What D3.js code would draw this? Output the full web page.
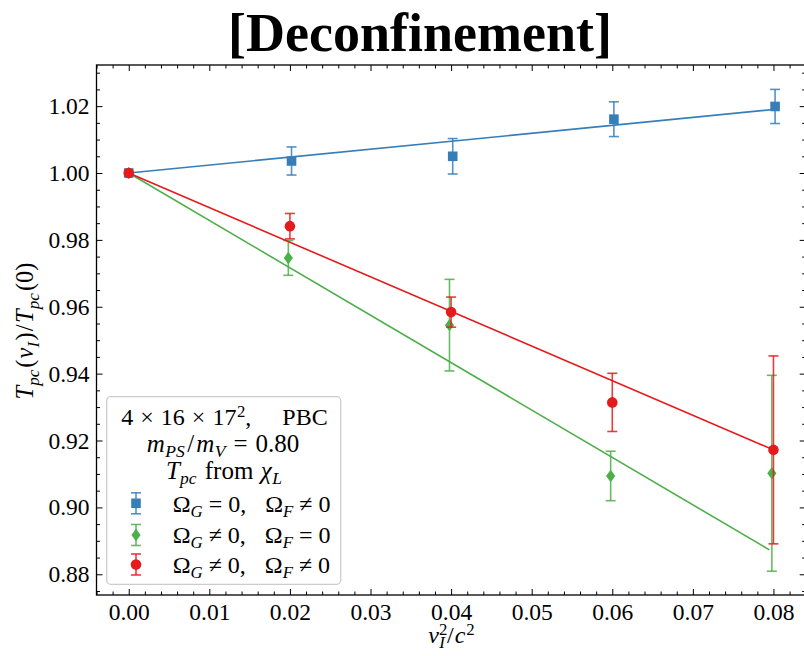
<!DOCTYPE html>
<html>
<head>
<meta charset="utf-8">
<script src="https://cdn.jsdelivr.net/npm/d3@7"></script>
<style>
  body { margin: 0; background: #fff; }
  svg { display: block; }
  text { font-family: "Liberation Serif", "DejaVu Serif", serif; fill: #000; }
</style>
</head>
<body>
<svg id="chart" width="804" height="656"></svg>
<script>
// v_I^2 / c^2 values for each lattice run
const xBlue  = [0, 0.0202, 0.0402, 0.0602, 0.0802];
const xGreen = [0, 0.0198, 0.0398, 0.0598, 0.0798];
const xRed   = [0, 0.0200, 0.0400, 0.0600, 0.0800];

// T_pc(v_I) / T_pc(0) with statistical errors
const blueY   = [1.0000, 1.0036, 1.0050, 1.0161, 1.0199];
const blueErr = [0, 0.0042, 0.0053, 0.0052, 0.0051];
const greenY   = [1.0000, 0.9746, 0.9545, 0.9094, 0.9102];
const greenErr = [0, 0.0052, 0.0137, 0.0074, 0.0293];
const redY   = [1.0000, 0.9841, 0.9584, 0.9314, 0.9172];
const redErr = [0, 0.0038, 0.0045, 0.0087, 0.0281];

// linear fits through (0, 1): [x, y] end points
const blueFit  = [[0, 1.0], [0.0800, 1.0190]];
const greenFit = [[0, 1.0], [0.0795, 0.8873]];
const redFit   = [[0, 1.0], [0.0800, 0.9172]];

// ticks
const xMajor = [0, 0.01, 0.02, 0.03, 0.04, 0.05, 0.06, 0.07, 0.08];
const yMajor = [0.88, 0.90, 0.92, 0.94, 0.96, 0.98, 1.00, 1.02];

const svg = d3.select("#chart");
const pL = 96.5, pR = 805.7, pT = 65, pB = 595;

const x = d3.scaleLinear().domain([-0.004, 0.084]).range([pL, pR]);
const y = d3.scaleLinear().domain([0.8738, 1.0323]).range([pB, pT]);

const xMinor = d3.range(-0.004, 0.0841, 0.002).map(v => +v.toFixed(4)).filter(v => xMajor.every(m => Math.abs(m - v) > 1e-6));
const yMinor = d3.range(0.875, 1.0326, 0.005).map(v => +v.toFixed(4)).filter(v => yMajor.every(m => Math.abs(m - v) > 1e-6));

// rich text with italic / sub / superscript pieces
function richText(t, parts, size, subShift = 0.26) {
  let shift = 0;
  parts.forEach(p => {
    const target = p.sub ? size * subShift : p.sup ? -size * 0.34 : 0;
    const ts = t.append("tspan").text(p.t)
      .attr("dy", (target - shift).toFixed(2))
      .attr("font-size", (p.sub || p.sup) ? size * 0.7 : size)
      .attr("font-style", p.i ? "italic" : "normal");
    if (p.dx) ts.attr("dx", p.dx);
    shift = target;
  });
  return t;
}

// title
svg.append("text")
  .attr("x", 420).attr("y", 51)
  .attr("text-anchor", "middle")
  .attr("font-size", 54).attr("font-weight", "bold")
  .text("[Deconfinement]");

// axes: ticks point inward on all four sides
function addAxis(axisFn, pos, transform, ticks, size, labels) {
  const a = axisFn(pos).tickValues(ticks).tickSizeInner(-size).tickSizeOuter(0);
  if (labels) a.tickFormat(d3.format(".2f")).tickPadding(axisFn === d3.axisBottom ? 8.5 : 7);
  else a.tickFormat("");
  const g = svg.append("g").attr("transform", transform).call(a);
  g.select(".domain").remove();
  g.selectAll(".tick line").attr("stroke", "#000").attr("stroke-width", 1);
  g.selectAll(".tick text").attr("font-size", 23.5).attr("font-family", "Liberation Serif, serif");
  return g;
}
addAxis(d3.axisBottom, x, `translate(0,${pB})`, xMajor, 6, true);
addAxis(d3.axisBottom, x, `translate(0,${pB})`, xMinor, 3.5, false);
addAxis(d3.axisTop, x, `translate(0,${pT})`, xMajor, 6, false);
addAxis(d3.axisTop, x, `translate(0,${pT})`, xMinor, 3.5, false);
addAxis(d3.axisLeft, y, `translate(${pL},0)`, yMajor, 6, true);
addAxis(d3.axisLeft, y, `translate(${pL},0)`, yMinor, 3.5, false);
addAxis(d3.axisRight, y, `translate(${pR},0)`, yMajor, 6, false);
addAxis(d3.axisRight, y, `translate(${pR},0)`, yMinor, 3.5, false);

svg.append("rect")
  .attr("x", pL).attr("y", pT)
  .attr("width", pR - pL).attr("height", pB - pT)
  .attr("fill", "none").attr("stroke", "#000").attr("stroke-width", 1.3);

// axis titles
richText(svg.append("text").attr("x", 451.5).attr("y", 643).attr("text-anchor", "middle"), [
  { t: "v", i: true },
  { t: "2", sup: true },
  { t: "I", sub: true, i: true, dx: -8 },
  { t: "/", dx: 2 },
  { t: "c", i: true, dx: 1 },
  { t: "2", sup: true, dx: 1 }
], 24, 0.22);

richText(svg.append("text")
  .attr("transform", "translate(33,331) rotate(-90)")
  .attr("text-anchor", "middle"), [
  { t: "T", i: true }, { t: "pc", sub: true, i: true },
  { t: "(", dx: 2 }, { t: "v", i: true, dx: 1 }, { t: "I", sub: true, i: true },
  { t: ")", dx: 1.5 }, { t: "/", dx: 1 },
  { t: "T", i: true, dx: 1.5 }, { t: "pc", sub: true, i: true },
  { t: "(0)", dx: 2 }
], 24.5);

// series
const series = [
  { xs: xBlue,  ys: blueY,  es: blueErr,  fit: blueFit,  color: "#377eb8", shape: "square" },
  { xs: xGreen, ys: greenY, es: greenErr, fit: greenFit, color: "#4daf4a", shape: "diamond" },
  { xs: xRed,   ys: redY,   es: redErr,   fit: redFit,   color: "#e41a1c", shape: "circle" }
];

function drawMarker(g, shape, cx, cy, color) {
  if (shape === "square") {
    g.append("rect").attr("x", cx - 4.8).attr("y", cy - 4.8)
      .attr("width", 9.6).attr("height", 9.6).attr("fill", color);
  } else if (shape === "diamond") {
    g.append("path")
      .attr("d", `M${cx},${cy - 6.2}L${cx + 4.6},${cy}L${cx},${cy + 6.2}L${cx - 4.6},${cy}Z`)
      .attr("fill", color);
  } else {
    g.append("circle").attr("cx", cx).attr("cy", cy).attr("r", 5.3).attr("fill", color);
  }
}

function drawErr(g, cx, y0, y1, color) {
  g.append("line").attr("x1", cx).attr("x2", cx).attr("y1", y0).attr("y2", y1)
    .attr("stroke", color).attr("stroke-width", 1.6).attr("stroke-opacity", 0.85);
  [y0, y1].forEach(yy => g.append("line")
    .attr("x1", cx - 5).attr("x2", cx + 5).attr("y1", yy).attr("y2", yy)
    .attr("stroke", color).attr("stroke-width", 1.6).attr("stroke-opacity", 0.85));
}

const line = d3.line().x(d => x(d[0])).y(d => y(d[1]));

series.forEach(s => {
  const g = svg.append("g");
  g.append("path").datum(s.fit).attr("d", line)
    .attr("fill", "none").attr("stroke", s.color).attr("stroke-width", 1.6);
  s.xs.forEach((xv, i) => {
    if (s.es[i] > 0) drawErr(g, x(xv), y(s.ys[i] - s.es[i]), y(s.ys[i] + s.es[i]), s.color);
  });
  s.xs.forEach((xv, i) => drawMarker(g, s.shape, x(xv), y(s.ys[i]), s.color));
});

// legend
const lg = svg.append("g");
lg.append("rect")
  .attr("x", 106.7).attr("y", 396.7).attr("width", 234).attr("height", 187.6)
  .attr("rx", 4).attr("fill", "#fff").attr("fill-opacity", 0.8)
  .attr("stroke", "#cccccc").attr("stroke-width", 1.3);

const lfs = 24;
richText(lg.append("text").attr("x", 224.5).attr("y", 425).attr("text-anchor", "middle"), [
  { t: "4" }, { t: "×", dx: 7 }, { t: "16", dx: 7 }, { t: "×", dx: 7 }, { t: "17", dx: 7 },
  { t: "2", sup: true, dx: 0.5 }, { t: "," }, { t: "PBC", dx: 31 }
], lfs);
richText(lg.append("text").attr("x", 223).attr("y", 452).attr("text-anchor", "middle"), [
  { t: "m", i: true }, { t: "PS", sub: true, i: true, dx: 0.5 },
  { t: "/", dx: 2.5 },
  { t: "m", i: true, dx: 2 }, { t: "V", sub: true, i: true, dx: 0.5 },
  { t: "=", dx: 8 }, { t: "0.80", dx: 8 }
], lfs + 1, 0.2);
richText(lg.append("text").attr("x", 224).attr("y", 478.5).attr("text-anchor", "middle"), [
  { t: "T", i: true }, { t: "pc", sub: true, i: true },
  { t: " from ", dx: 2 },
  { t: "χ", i: true, dx: 1 }, { t: "L", sub: true, i: true, dx: 0.5 }
], lfs + 1, 0.22);

const legendRows = [
  { color: "#377eb8", shape: "square",  my: 503.3, ty: 511.7, g: " = 0,", f: " ≠ 0" },
  { color: "#4daf4a", shape: "diamond", my: 535,   ty: 542.7, g: " ≠ 0,", f: " = 0" },
  { color: "#e41a1c", shape: "circle",  my: 564.5, ty: 572.7, g: " ≠ 0,", f: " ≠ 0" }
];
legendRows.forEach(r => {
  drawErr(lg, 136, r.my - 10.5, r.my + 10.5, r.color);
  drawMarker(lg, r.shape, 136, r.my, r.color);
  richText(lg.append("text").attr("x", 172.7).attr("y", r.ty), [
    { t: "Ω" }, { t: "G", sub: true, i: true }, { t: r.g },
    { t: "Ω", dx: 19 }, { t: "F", sub: true, i: true }, { t: r.f }
  ], lfs, 0.22);
});
</script>
</body>
</html>
